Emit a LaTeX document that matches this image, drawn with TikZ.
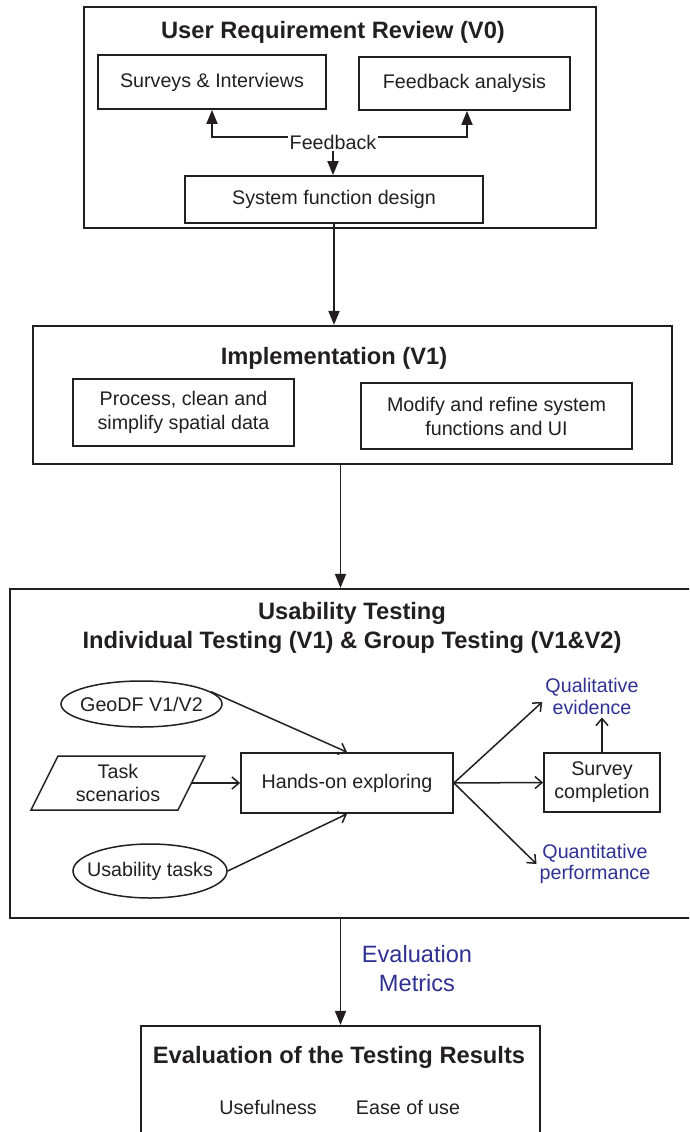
\documentclass[tikz,border=0pt]{standalone}
\usepackage{fontspec}
\setmainfont{Liberation Sans}
\usetikzlibrary{shapes.geometric,arrows.meta}

\definecolor{inkline}{RGB}{35,31,32}
\definecolor{metricblue}{RGB}{46,49,146}

\tikzset{
bodyfont/.style={font=\fontsize{19.7}{23}\selectfont},
headfont/.style={font=\fontsize{23.7}{29}\selectfont\bfseries},
}

\begin{document}
\begin{tikzpicture}[x=1pt, y=-1pt, text=inkline,
stage/.style={draw=inkline, line width=2.2pt, inner sep=0pt},
part/.style={draw=inkline, line width=1.8pt, align=center, bodyfont},
oval/.style={ellipse, draw=inkline, line width=1.5pt, inner xsep=-10pt, inner ysep=0pt, bodyfont},
bluenote/.style={text=metricblue, align=center, font=\fontsize{19.7}{22}\selectfont},
solid arrow/.style={draw=inkline, line width=1.8pt, -{Triangle[length=14pt, width=11pt]}},
open arrow/.style={draw=inkline, line width=1.5pt, -{Straight Barb[length=7pt, width=12pt]}},
]
%Frame
\useasboundingbox (0,0) rectangle (689,1132);
\clip (0,0) rectangle (689,1132);

%Stage boxes
\node[stage, minimum width=512pt, minimum height=221pt] (review) at (340,117.5) {};
\node[stage, minimum width=639pt, minimum height=138pt] (impl) at (352.5,395) {};
\node[stage, minimum width=690pt, minimum height=329pt] (usab) at (355,753.5) {};
\node[stage, minimum width=399pt, minimum height=124pt] (evalbox) at (340.5,1088) {};

%Stage 1: requirement review
\node[headfont] (reviewtitle) at (333,32) {User Requirement Review (V0)};
\node[part, minimum width=228pt, minimum height=54pt] (surveys) at (212,82) {Surveys \& Interviews};
\node[part, minimum width=211pt, minimum height=53pt] (fbanalysis) at (464.5,83.5) {Feedback analysis};
\node[bodyfont, inner sep=2pt] (feedback) at (333,142) {Feedback};
\node[part, minimum width=298pt, minimum height=47pt] (sysdesign) at (334,199.5) {System function design};

\draw[solid arrow] ([yshift=5pt]feedback.west) -| (surveys.south);
\draw[solid arrow] ([yshift=5pt]feedback.east) -| ([xshift=2.5pt]fbanalysis.south);
\draw[solid arrow] (feedback.south) -- (feedback.south |- sysdesign.north);

%Stage 2: implementation
\node[headfont] (impltitle) at (334,358) {Implementation (V1)};
\node[part, minimum width=221pt, minimum height=67pt, font=\fontsize{19.7}{24}\selectfont] (cleandata) at (183.5,412.5) {Process, clean and\\simplify spatial data};
\node[part, minimum width=271pt, minimum height=66pt, font=\fontsize{19.7}{24}\selectfont] (refine) at (496.5,416) {Modify and refine system\\functions and UI};

%Stage 3: usability testing
\node[headfont, align=center] (usabtitle) at (352,627.5) {Usability Testing\\Individual Testing (V1) \& Group Testing (V1\&V2)};
\node[oval, minimum width=161pt, minimum height=46pt] (geodf) at (141.5,704) {GeoDF V1/V2};
\node[bodyfont, align=center, minimum width=147pt, inner sep=0pt] (tasks) at (118,783) {Task\\scenarios};
\draw[draw=inkline, line width=1.5pt] (tasks.center) ++(-87,27) -- ++(147,0) -- ++(27,-54) -- ++(-147,0) -- cycle;
\node[oval, minimum width=154pt, minimum height=54pt] (utasks) at (150,871) {Usability tasks};
\node[part, minimum width=212pt, minimum height=60pt] (handson) at (347,783) {Hands-on exploring};
\node[part, minimum width=116pt, minimum height=59pt] (survey) at (602,782.5) {Survey\\completion};
\node[bluenote, inner sep=3pt] (qual) at (592,696) {Qualitative\\evidence};
\node[bluenote, inner sep=3pt, font=\fontsize{19.7}{21}\selectfont] (quant) at (595,864) {Quantitative\\performance};

\draw[open arrow] (geodf.10) -- (handson.north);
\draw[open arrow] (tasks.east) -- (handson.west);
\draw[open arrow] (utasks.east) -- (handson.south);
\draw[open arrow] (handson.east) -- ([yshift=-6pt]qual.west);
\draw[open arrow] (handson.east) -- (survey.west);
\draw[open arrow] (handson.east) -- (quant.west);
\draw[open arrow] (survey.north) -- (survey.north |- qual.south);

%Stage 4: evaluation
\node[headfont] (evaltitle) at (339,1057) {Evaluation of the Testing Results};
\node[bodyfont] (useful) at (268,1107) {Usefulness};
\node[bodyfont] (easeuse) at (408,1107) {Ease of use};
\node[text=metricblue, align=center, font=\fontsize{23.6}{29}\selectfont] (metrics) at (417,969) {Evaluation\\Metrics};

%Stage links
\draw[solid arrow] (sysdesign.south) -- (sysdesign.south |- impl.north);
\draw[solid arrow] (impl.south -| evalbox.north) -- (usab.north -| evalbox.north);
\draw[solid arrow] (usab.south -| evalbox.north) -- (evalbox.north);
\end{tikzpicture}
\end{document}
